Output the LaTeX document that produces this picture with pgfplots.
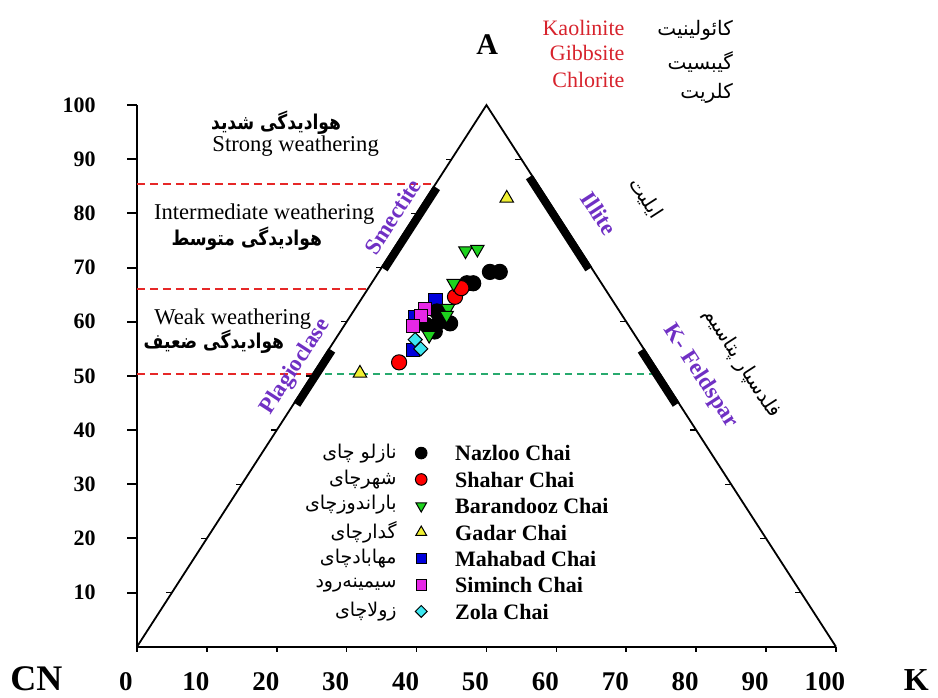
\documentclass[border=0pt]{standalone}
\usepackage{pgfplots}
\pgfplotsset{compat=1.18}
\usepackage{fontspec}
\setmainfont{Liberation Serif}
\newfontfamily\fa[Script=Arabic]{DejaVu Sans}
\newfontfamily\fab[Script=Arabic, FakeStretch=0.84]{DejaVu Sans Bold}
\TeXXeTstate=1

\definecolor{mred}{RGB}{215,35,45}
\definecolor{mpurple}{RGB}{112,48,196}
\definecolor{dred}{RGB}{230,40,40}
\definecolor{dgreen}{RGB}{40,170,110}
\definecolor{pgreen}{RGB}{30,210,30}
\definecolor{pyellow}{RGB}{240,240,50}
\definecolor{pblue}{RGB}{0,0,220}
\definecolor{pmag}{RGB}{230,40,230}
\definecolor{pcyan}{RGB}{60,230,240}

\newcommand{\fs}[1]{\fontsize{#1}{#1}\selectfont}

\pgfplotsset{
  nazloo/.style={only marks, mark=*, mark size=3.8pt, mark options={fill=black, draw=black, line width=0.5pt}},
  shahar/.style={only marks, mark=*, mark size=3.8pt, mark options={fill=red, draw=black, line width=0.5pt}},
  barand/.style={only marks, mark=triangle*, mark size=3.9pt, mark options={rotate=180, fill=pgreen, draw=black, line width=0.5pt}},
  gadar/.style={only marks, mark=triangle*, mark size=3.9pt, mark options={fill=pyellow, draw=black, line width=0.5pt}},
  mahabad/.style={only marks, mark=square*, mark size=3.3pt, mark options={fill=pblue, draw=black, line width=0.5pt}},
  siminch/.style={only marks, mark=square*, mark size=3.3pt, mark options={fill=pmag, draw=black, line width=0.5pt}},
  zola/.style={only marks, mark=square*, mark size=2.5pt, mark options={rotate=45, fill=pcyan, draw=black, line width=0.5pt}},
}
\tikzset{txt/.style={inner sep=0pt}}

\begin{document}
\begin{tikzpicture}
\begin{axis}[
  scale only axis, width=349.5pt, height=270.85pt,
  xmin=0, xmax=100, ymin=0, ymax=100,
  axis x line=bottom, axis y line=left,
  axis line style={-, line width=1.2pt},
  clip=false,
  xtick={0,10,...,100}, ytick={10,20,...,100},
  tick align=outside, major tick length=2.5pt,
  tick style={black, line width=0.8pt},
  /pgf/number format/assume math mode=true,
  xticklabel style={font=\bfseries\fs{13.5}, anchor=center, xshift=-5.5pt, yshift=-15pt},
  yticklabel style={font=\bfseries\fs{11}, anchor=east, inner sep=0pt, xshift=-18pt},
  legend style={at={(axis cs:38.9,38.45)}, anchor=north west, draw=none, fill=none,
    font=\bfseries\fs{11}, row sep=0pt, column sep=14pt,
    nodes={inner sep=0pt, text height=9pt, text depth=4.2pt}},
  legend cell align=left,
  legend image code/.code={\draw[#1, yshift=1.5pt] plot coordinates {(0pt,0pt)};},
]
% triangle and guide lines
\addplot[black, line width=0.9pt, no marks, forget plot] coordinates {(0,0) (50,100) (100,0)};
\addplot[dred, line width=0.8pt, dash pattern=on 4pt off 2.5pt, forget plot] coordinates {(0,85.4) (42.7,85.4)};
\addplot[dred, line width=0.8pt, dash pattern=on 4pt off 2.5pt, forget plot] coordinates {(0,66) (33,66)};
\addplot[dred, line width=0.8pt, dash pattern=on 4pt off 2.5pt, forget plot] coordinates {(0,50.3) (25.15,50.3)};
\addplot[dgreen, line width=0.8pt, dash pattern=on 3.5pt off 2.5pt, forget plot] coordinates {(25.15,50.3) (74.85,50.3)};

% mineral bars on the sides
\addplot[black, line width=4pt, forget plot, xshift=1.3pt, yshift=-0.8pt] coordinates {(35,70) (42.5,85)};
\addplot[black, line width=4pt, forget plot, xshift=1.3pt, yshift=-0.8pt] coordinates {(22.5,45) (27.5,55)};
\addplot[black, line width=4pt, forget plot, xshift=-1.3pt, yshift=-0.8pt] coordinates {(65,70) (56.5,87)};
\addplot[black, line width=4pt, forget plot, xshift=-1.3pt, yshift=-0.8pt] coordinates {(77.5,45) (72.5,55)};

% ticks on the sides and the left axis
\pgfplotsinvokeforeach{10,20,...,90}{
  \draw[line width=0.6pt] (axis cs:#1/2,#1) -- ++(-3pt,0);
  \draw[line width=0.6pt] (axis cs:100-#1/2,#1) -- ++(-3pt,0);
}
\pgfplotsinvokeforeach{10,20,...,100}{
  \draw[line width=1pt] (axis cs:0,#1) -- ++(-5pt,0);
}

% samples
\addplot[mahabad, forget plot] coordinates {(42.7,64.0) (39.8,60.9) (39.5,54.8)};
\addplot[nazloo, forget plot] coordinates {(50.5,69.2) (51.9,69.2) (48.1,67.1) (47.2,67.1) (44.8,59.7) (43.3,60.0) (42.6,58.2) (42.9,61.9) (41.4,59.4)};
\addplot[shahar, forget plot] coordinates {(37.5,52.5) (45.5,64.6) (46.4,66.2)};
\addplot[siminch, forget plot] coordinates {(41.2,62.3) (40.6,61.0) (39.5,59.2)};
\addplot[zola, forget plot] coordinates {(39.8,56.7) (40.6,55.0)};
\addplot[barand, forget plot] coordinates {(47.0,73.1) (48.7,73.4) (45.3,67.1) (44.5,62.5) (44.3,61.2) (41.8,57.5)};
\addplot[gadar, forget plot] coordinates {(31.9,50.5) (52.9,82.8)};

% legend
\addlegendimage{nazloo, mark size=2.9pt}\addlegendentry{Nazloo Chai}
\addlegendimage{shahar, mark size=2.9pt}\addlegendentry{Shahar Chai}
\addlegendimage{barand, mark size=3.1pt}\addlegendentry{Barandooz Chai}
\addlegendimage{gadar, mark size=3.1pt}\addlegendentry{Gadar Chai}
\addlegendimage{mahabad, mark size=2.6pt}\addlegendentry{Mahabad Chai}
\addlegendimage{siminch, mark size=2.6pt}\addlegendentry{Siminch Chai}
\addlegendimage{zola, mark size=2.1pt}\addlegendentry{Zola Chai}

\node[txt, anchor=east, font=\fa\fs{9.5}] at (axis cs:37.2,35.7) {\beginR نازلو چای\endR};
\node[txt, anchor=east, font=\fa\fs{9.5}] at (axis cs:37.2,30.8) {\beginR شهرچای\endR};
\node[txt, anchor=east, font=\fa\fs{9.5}] at (axis cs:37.2,26.2) {\beginR باراندوزچای\endR};
\node[txt, anchor=east, font=\fa\fs{9.5}] at (axis cs:37.2,21.2) {\beginR گدارچای\endR};
\node[txt, anchor=east, font=\fa\fs{9.5}] at (axis cs:37.2,16.3) {\beginR مهابادچای\endR};
\node[txt, anchor=east, font=\fa\fs{9.5}] at (axis cs:37.2,11.4) {\beginR سیمینه‌رود\endR};
\node[txt, anchor=east, font=\fa\fs{9.5}] at (axis cs:37.2,6.5) {\beginR زولاچای\endR};

% corner labels
\node[txt, font=\bfseries\fs{15}] at (axis cs:50.1,111.1) {A};
\node[txt, anchor=base, text depth=0pt, font=\bfseries\fs{18}] at (axis cs:-14.4,-8.1) {CN};
\node[txt, anchor=base, text depth=0pt, font=\bfseries\fs{16}] at (axis cs:111.5,-8.1) {K};

\node[txt, anchor=east, text=mred, font=\fs{11}] at (axis cs:69.8,114.2) {Kaolinite};
\node[txt, anchor=east, text=mred, font=\fs{11}] at (axis cs:69.8,109.6) {Gibbsite};
\node[txt, anchor=east, text=mred, font=\fs{11}] at (axis cs:69.8,104.6) {Chlorite};
\node[txt, anchor=east, font=\fa\fs{10}] at (axis cs:85.3,113.8) {\beginR کائولینیت\endR};
\node[txt, anchor=east, font=\fa\fs{10}] at (axis cs:85.3,107.9) {\beginR گیبسیت\endR};
\node[txt, anchor=east, font=\fa\fs{10}] at (axis cs:85.3,102.2) {\beginR کلریت\endR};

% weathering zones
\node[txt, font=\fab\fs{10.2}] at (axis cs:19.9,96.7) {\beginR هوادیدگی شدید\endR};
\node[txt, font=\fs{11.3}] at (axis cs:22.7,92.4) {Strong weathering};
\node[txt, font=\fs{11.3}] at (axis cs:18.2,79.9) {Intermediate weathering};
\node[txt, font=\fab\fs{10.2}] at (axis cs:15.7,75.4) {\beginR هوادیدگی متوسط\endR};
\node[txt, font=\fs{11.3}] at (axis cs:13.7,60.5) {Weak weathering};
\node[txt, font=\fab\fs{10.2}] at (axis cs:11.0,56.3) {\beginR هوادیدگی ضعیف\endR};

% minerals along the sides
\node[txt, rotate=57.1, text=mpurple, font=\bfseries\fs{11.5}] at (axis cs:36.6,79.4) {Smectite};
\node[txt, rotate=57.1, text=mpurple, font=\bfseries\fs{11.5}] at (axis cs:22.7,51.7) {Plagioclase};
\node[txt, rotate=-57.1, text=mpurple, font=\bfseries\fs{11.5}] at (axis cs:66.1,80.0) {Illite};
\node[txt, rotate=-57.1, text=mpurple, font=\bfseries\fs{11.5}] at (axis cs:80.6,49.9) {K- Feldspar};
\node[txt, rotate=-57.1, font=\fa\fs{10}] at (axis cs:72.8,82.8) {\beginR ایلیت\endR};
\node[txt, rotate=-57.1, font=\fa\fs{10}] at (axis cs:86.5,52.3) {\beginR فلدسپار پتاسیم\endR};

\coordinate (bbsw) at (axis cs:-19.6,-9.29);
\coordinate (bbne) at (axis cs:114.6,119.4);
\end{axis}
\pgfresetboundingbox
\path[use as bounding box] (bbsw) rectangle (bbne);
\end{tikzpicture}
\end{document}
